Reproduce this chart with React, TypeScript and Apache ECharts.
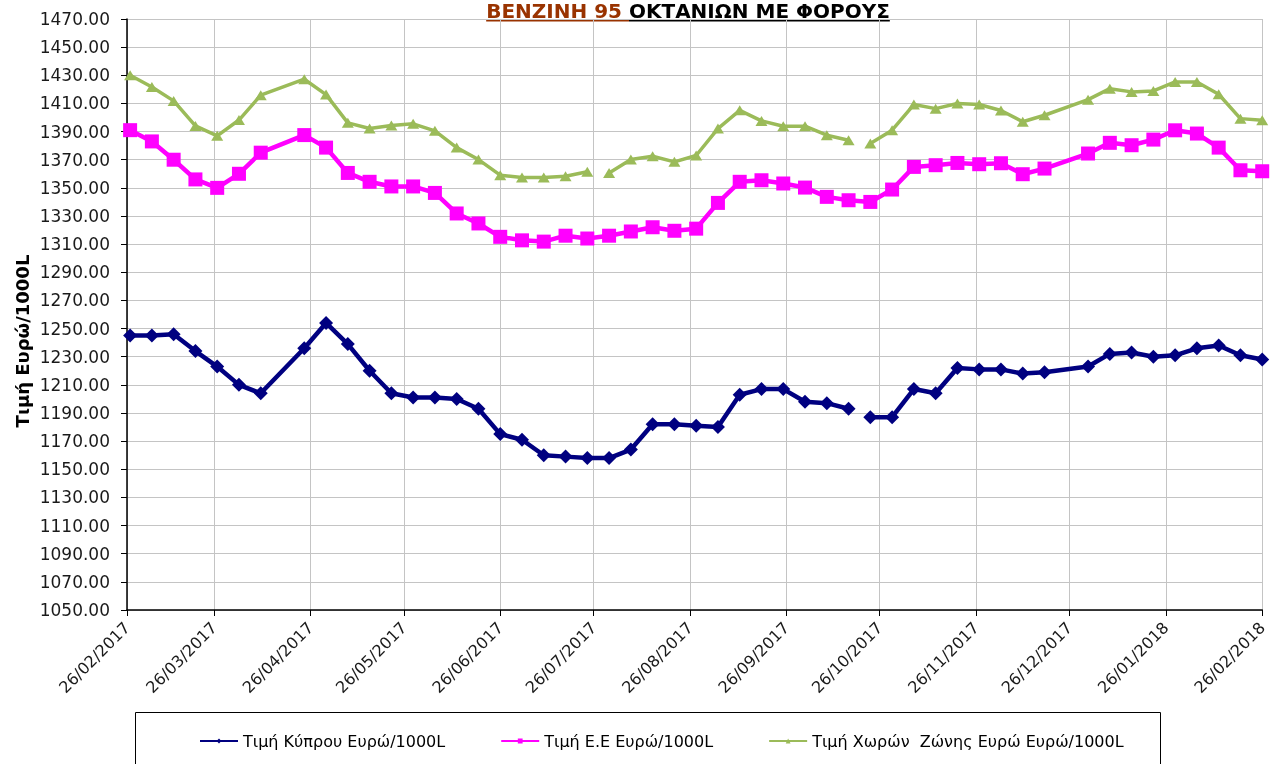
import React, { useEffect, useRef } from "react";
import * as echarts from "echarts";

// ---- data ----
const dates = [
  "2017-02-27", "2017-03-06", "2017-03-13", "2017-03-20", "2017-03-27", "2017-04-03", "2017-04-10",
  "2017-04-24", "2017-05-01", "2017-05-08", "2017-05-15", "2017-05-22", "2017-05-29",
  "2017-06-05", "2017-06-12", "2017-06-19", "2017-06-26",
  "2017-07-03", "2017-07-10", "2017-07-17", "2017-07-24", "2017-07-31",
  "2017-08-07", "2017-08-14", "2017-08-21", "2017-08-28",
  "2017-09-04", "2017-09-11", "2017-09-18", "2017-09-25",
  "2017-10-02", "2017-10-09", "2017-10-16", "2017-10-23", "2017-10-30",
  "2017-11-06", "2017-11-13", "2017-11-20", "2017-11-27",
  "2017-12-04", "2017-12-11", "2017-12-18",
  "2018-01-01", "2018-01-08", "2018-01-15", "2018-01-22", "2018-01-29",
  "2018-02-05", "2018-02-12", "2018-02-19", "2018-02-26",
];

const cyprus = [
  1245, 1245, 1246, 1234, 1223, 1210, 1204,
  1236, 1254, 1239, 1220, 1204, 1201,
  1201, 1200, 1193, 1175,
  1171, 1160, 1159, 1158, 1158,
  1164, 1182, 1182, 1181,
  1180, 1203, 1207, 1207,
  1198, 1197, 1193, 1187, 1187,
  1207, 1204, 1222, 1221,
  1221, 1218, 1219,
  1223, 1232, 1233, 1230, 1231,
  1236, 1238, 1231, 1228,
];

const eu = [
  1391, 1383, 1370, 1356, 1350, 1360, 1375,
  1387.5, 1378.6, 1360.6, 1354.3, 1351, 1351,
  1346.4, 1331.8, 1324.7, 1315.2,
  1312.7, 1311.8, 1316, 1314, 1316,
  1319, 1322, 1319.5, 1321,
  1339.3, 1354.3, 1355.4, 1353.1,
  1350.2, 1343.6, 1341.2, 1340, 1348.8,
  1364.9, 1366.1, 1367.7, 1366.8,
  1367.5, 1359.7, 1363.7,
  1374.4, 1382, 1380.3, 1384.3, 1390.9,
  1388.6, 1378.6, 1362.5, 1361.8,
];

const euroZone = [
  1430, 1421.7, 1411.8, 1394, 1387, 1398.2, 1415.9,
  1427.2, 1416.3, 1396.2, 1392.2, 1394.3, 1395.5,
  1390.5, 1378.6, 1370.1, 1359,
  1357.3, 1357.3, 1358.3, 1361.4, 1360.6,
  1370.1, 1372.5, 1368.5, 1373,
  1392.1, 1405.1, 1397.6, 1393.8,
  1393.8, 1387.4, 1383.8, 1381.5, 1391,
  1409.2, 1406.3, 1409.9, 1409.2,
  1405, 1397, 1401.6,
  1412.7, 1420.5, 1418.2, 1418.9, 1425.3,
  1425.3, 1416.5, 1399.2, 1398,
];

// the line is broken right after these dates
const cyprusGapAfter = ["2017-10-16"];
const euGapAfter: string[] = [];
const euroZoneGapAfter = ["2017-07-24", "2017-10-16"];

const monthTicks = [
  "2017-02-26", "2017-03-26", "2017-04-26", "2017-05-26", "2017-06-26", "2017-07-26", "2017-08-26",
  "2017-09-26", "2017-10-26", "2017-11-26", "2017-12-26", "2018-01-26", "2018-02-26",
];

const yTicks = [
  1050, 1070, 1090, 1110, 1130, 1150, 1170, 1190, 1210, 1230, 1250,
  1270, 1290, 1310, 1330, 1350, 1370, 1390, 1410, 1430, 1450, 1470,
];

const seriesNames = [
  "Τιμή Κύπρου Ευρώ/1000L",
  "Τιμή Ε.Ε Ευρώ/1000L",
  "Τιμή Χωρών  Ζώνης Ευρώ Ευρώ/1000L",
];

const titlePart1 = "ΒΕΝΖΙΝΗ 95 ";
const titlePart2 = "ΟΚΤΑΝΙΩΝ ΜΕ ΦΟΡΟΥΣ";
const yAxisTitle = "Τιμή Ευρώ/1000L";

// ---- helpers ----
const T = (s: string) => {
  const [y, m, d] = s.split("-").map(Number);
  return Date.UTC(y, m - 1, d);
};
const DAY = 86400000;

function build(ds: string[], vals: number[], gaps: string[]) {
  const out: any[] = [];
  ds.forEach((d, i) => {
    out.push([T(d), vals[i]]);
    if (gaps.includes(d)) out.push([T(d) + 3.5 * DAY, null]);
  });
  return out;
}

const pad = (n: number) => (n < 10 ? "0" + n : "" + n);
const fmtDate = (v: number) => {
  const d = new Date(v);
  return `${pad(d.getUTCDate())}/${pad(d.getUTCMonth() + 1)}/${d.getUTCFullYear()}`;
};

const FONT = "DejaVu Sans";

export default function App() {
  const ref = useRef<HTMLDivElement>(null);
  useEffect(() => {
    if (!ref.current) return;
    const chart = echarts.init(ref.current, undefined, { renderer: "svg" });

    const titleFont = `bold 20px "${FONT}"`;
    const ctx = document.createElement("canvas").getContext("2d")!;
    ctx.font = titleFont;
    const w1 = ctx.measureText(titlePart1).width;
    const w2 = ctx.measureText(titlePart2).width;
    const tx = 688 - (w1 + w2) / 2;

    const tickVals = monthTicks.map(T);
    const gridColor = "#c4c4c4";

    chart.setOption({
      animation: false,
      textStyle: { fontFamily: FONT },
      grid: { left: 127, right: 6, top: 19, bottom: 154 },
      xAxis: {
        type: "value",
        min: T(monthTicks[0]),
        max: T(monthTicks[monthTicks.length - 1]),
        axisLine: { show: true, onZero: false, lineStyle: { color: "#000", width: 1.5 } },
        axisTick: { show: true, customValues: tickVals, length: 6, lineStyle: { color: "#000" } },
        axisLabel: {
          customValues: tickVals,
          rotate: 45,
          margin: 15,
          fontSize: 16,
          color: "#1a1a1a",
          fontFamily: FONT,
          formatter: (v: number) => fmtDate(v),
        },
        splitLine: { show: true, lineStyle: { color: gridColor, width: 1 } },
      },
      yAxis: {
        type: "value",
        min: 1050,
        max: 1470,
        axisLine: { show: true, lineStyle: { color: "#000", width: 1.5 } },
        axisTick: { show: true, customValues: yTicks, length: 6, lineStyle: { color: "#000" } },
        axisLabel: {
          customValues: yTicks,
          fontSize: 17,
          margin: 17,
          color: "#1a1a1a",
          fontFamily: FONT,
          formatter: (v: number) => v.toFixed(2),
        },
        splitLine: { show: true, lineStyle: { color: gridColor, width: 1 } },
      },
      legend: {
        left: 199,
        top: 733,
        padding: 0,
        itemWidth: 38,
        itemHeight: 6,
        itemGap: 55,
        textStyle: { fontSize: 16, color: "#000", fontFamily: FONT },
        data: seriesNames,
      },
      graphic: [
        {
          type: "rect",
          silent: true,
          shape: { x: 135.5, y: 712.5, width: 1025, height: 80 },
          style: { fill: "none", stroke: "#000", lineWidth: 1 },
        },
        {
          type: "text",
          x: tx,
          y: 11,
          style: { text: titlePart1, font: titleFont, fill: "#993300", align: "left", verticalAlign: "middle" },
        },
        {
          type: "text",
          x: tx + w1,
          y: 11,
          style: { text: titlePart2, font: titleFont, fill: "#000", align: "left", verticalAlign: "middle" },
        },
        {
          type: "line",
          shape: { x1: tx, y1: 20.5, x2: tx + w1, y2: 20.5 },
          style: { stroke: "#993300", lineWidth: 2 },
        },
        {
          type: "line",
          shape: { x1: tx + w1, y1: 20.5, x2: tx + w1 + w2, y2: 20.5 },
          style: { stroke: "#000", lineWidth: 2 },
        },
        {
          type: "text",
          x: 22,
          y: 341,
          rotation: Math.PI / 2,
          style: {
            text: yAxisTitle,
            font: `bold 18px "${FONT}"`,
            fill: "#000",
            align: "center",
            verticalAlign: "middle",
          },
        },
      ],
      series: [
        {
          name: seriesNames[0],
          type: "line",
          data: build(dates, cyprus, cyprusGapAfter),
          symbol: "diamond",
          symbolSize: 14,
          connectNulls: false,
          lineStyle: { color: "#000080", width: 4.5 },
          itemStyle: { color: "#000080" },
        },
        {
          name: seriesNames[1],
          type: "line",
          data: build(dates, eu, euGapAfter),
          symbol: "rect",
          symbolSize: 14,
          connectNulls: false,
          lineStyle: { color: "#ff00ff", width: 4.5 },
          itemStyle: { color: "#ff00ff" },
        },
        {
          name: seriesNames[2],
          type: "line",
          data: build(dates, euroZone, euroZoneGapAfter),
          symbol: "triangle",
          symbolSize: [12, 10],
          connectNulls: false,
          lineStyle: { color: "#9bbb59", width: 3.5 },
          itemStyle: { color: "#9bbb59" },
        },
      ],
    });
    return () => chart.dispose();
  }, []);
  return (
    <div
      ref={ref}
      style={{ position: "fixed", left: 0, top: 0, width: 1270, height: 764 }}
    />
  );
}
